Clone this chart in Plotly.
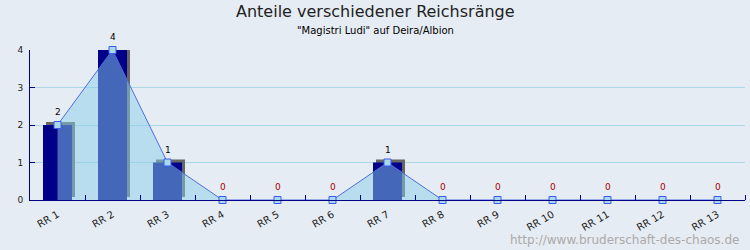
import plotly.graph_objects as go

categories = ["RR 1", "RR 2", "RR 3", "RR 4", "RR 5", "RR 6", "RR 7",
              "RR 8", "RR 9", "RR 10", "RR 11", "RR 12", "RR 13"]
values = [2, 4, 1, 0, 0, 0, 1, 0, 0, 0, 0, 0, 0]
y_ticks = [0, 1, 2, 3, 4]

title_text = "Anteile verschiedener Reichsränge"
subtitle_text = "\"Magistri Ludi\" auf Deira/Albion"
watermark = "http://www.bruderschaft-des-chaos.de"

W, H = 750, 250
ML, MR, MT, MB = 30, 5, 50, 50
plot_w = W - ML - MR
plot_h = H - MT - MB
n = len(categories)
xs = list(range(1, n + 1))
px_x = n / plot_w            # data units per pixel (x)
px_y = (y_ticks[-1] - y_ticks[0]) / plot_h  # data units per pixel (y)

BG = "#E6ECF3"
NAVY = "#000088"
FONT = "DejaVu Sans"
bar_w = 29 * px_x

fig = go.Figure()

# 3D shadow bars (offset right/up)
fig.add_trace(go.Bar(
    x=[x + 3 * px_x for x in xs], y=values, base=[3 * px_y] * n,
    width=bar_w, marker=dict(color="#666666", line=dict(width=0)),
    cliponaxis=False, hoverinfo="skip", showlegend=False))

# main bars
fig.add_trace(go.Bar(
    x=xs, y=values, width=bar_w,
    marker=dict(color=NAVY, line=dict(width=0)),
    hoverinfo="skip", showlegend=False))

# area + line + markers
fig.add_trace(go.Scatter(
    x=xs, y=values, mode="lines+markers",
    fill="tozeroy", fillcolor="rgba(135,206,235,0.5)",
    line=dict(color="rgb(80,110,220)", width=1),
    marker=dict(symbol="square", size=7, color="#A8D8EC",
                line=dict(color="rgb(60,90,240)", width=1)),
    cliponaxis=False, showlegend=False, hoverinfo="skip"))

fig.update_layout(
    width=W, height=H, margin=dict(l=ML, r=MR, t=MT, b=MB),
    paper_bgcolor=BG, plot_bgcolor=BG, barmode="overlay",
    font=dict(family=FONT, size=9, color="#222222"),
    xaxis=dict(range=[0.5, n + 0.5], tickmode="array", tickvals=xs,
               ticktext=categories, tickangle=-30, ticks="",
               ticklabelstandoff=4,
               showline=True, linecolor=NAVY, linewidth=1,
               showgrid=False, zeroline=False, fixedrange=True,
               tickfont=dict(size=10, color="#222222"),
               minor=dict(tickmode="array",
                          tickvals=[x + 0.5 for x in xs],
                          ticks="inside", ticklen=5, tickcolor=NAVY,
                          tickwidth=1, showgrid=False)),
    yaxis=dict(range=[y_ticks[0], y_ticks[-1]], tickmode="array",
               tickvals=y_ticks, ticks="inside", ticklen=5,
               ticklabelstandoff=4,
               tickcolor=NAVY, showline=True, linecolor=NAVY, linewidth=1,
               showgrid=True, gridcolor="#AAD8E6", gridwidth=1,
               zeroline=False, fixedrange=True,
               tickfont=dict(size=9, color="#222222")),
)

# value labels above each point (pixel offset above the point)
for x, v in zip(xs, values):
    fig.add_annotation(x=x, y=v, xref="x", yref="y", text=str(v),
                       showarrow=False, yshift=13, yanchor="middle",
                       font=dict(family=FONT, size=9,
                                 color="#000000" if v else "#AA0000"))

# title, subtitle, watermark positioned in pixels
def px_ann(text, x_px, y_px, size, color, xanchor="center"):
    fig.add_annotation(text=text, xref="paper", yref="paper",
                       x=(x_px - ML) / plot_w, y=(H - MB - y_px) / plot_h,
                       xanchor=xanchor, yanchor="middle", showarrow=False,
                       font=dict(family=FONT, size=size, color=color))

px_ann(title_text, W / 2, 12, 16, "#222222")
px_ann(subtitle_text, W / 2, 30, 10, "#000000")
px_ann(watermark, 741, 240, 12, "#AAAAAA", xanchor="right")

fig.write_html("out.html")
